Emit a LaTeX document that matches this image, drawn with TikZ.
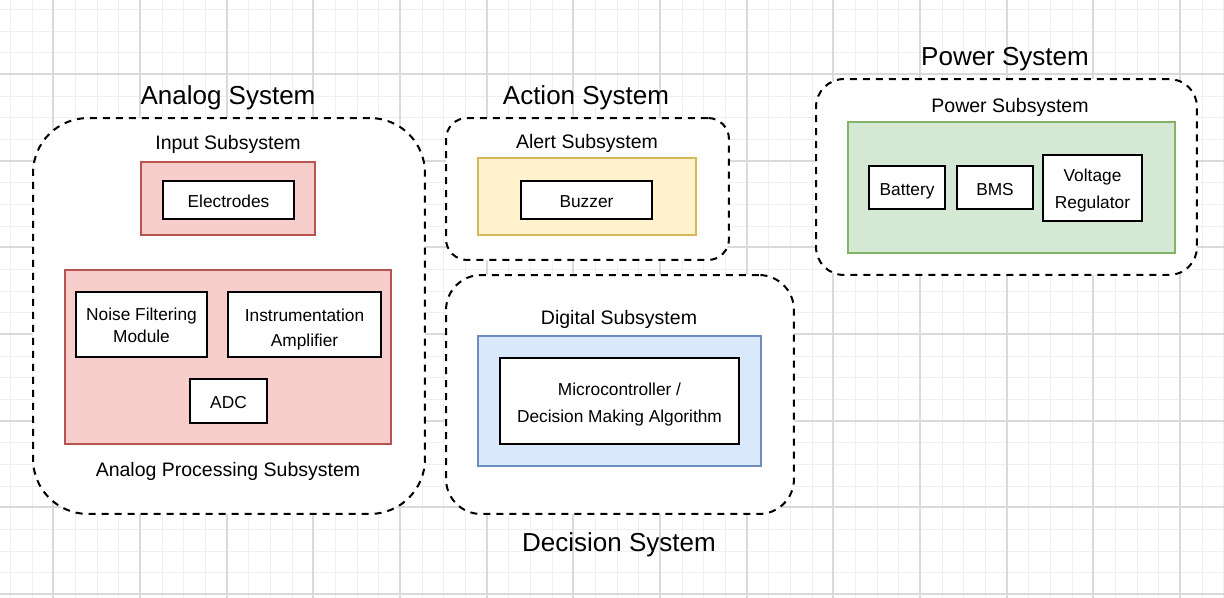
\documentclass[tikz,border=0pt]{standalone}
\usepackage{fontspec}
\setmainfont{Liberation Sans}
\definecolor{gridminor}{HTML}{EFEFEF}
\definecolor{gridmajor}{HTML}{DADADA}
\definecolor{redfill}{HTML}{F8CECC}
\definecolor{redline}{HTML}{B85450}
\definecolor{yelfill}{HTML}{FFF2CC}
\definecolor{yelline}{HTML}{D6B656}
\definecolor{blufill}{HTML}{DAE8FC}
\definecolor{bluline}{HTML}{6C8EBF}
\definecolor{grnfill}{HTML}{D5E8D4}
\definecolor{grnline}{HTML}{82B366}
\newcommand{\tstrut}[1]{\rule{0pt}{#1}}
\tikzset{
  outerbox/.style={draw=black, line width=1.15pt, dash pattern=on 4pt off 3.4pt, inner sep=0pt},
  subbox/.style={line width=0.9pt, inner sep=0pt},
  item/.style={draw=black, fill=white, line width=1.1pt, inner sep=0pt, align=center,
    font=\fontsize{9.85}{14.5}\selectfont},
  oneline/.style={text height=8.2pt, text depth=0pt},
  title/.style={inner sep=0pt, anchor=base, font=\fontsize{14.8}{17}\selectfont},
  sublabel/.style={inner sep=0pt, anchor=base, font=\fontsize{11.1}{13}\selectfont},
}
\begin{document}
\begin{tikzpicture}[x=0.02cm, y=-0.02cm]
\useasboundingbox (0,0) rectangle (1224,598);
\fill[white] (0,0) rectangle (1224,598);
% grid
\foreach \i in {0,...,56} {
  \pgfmathsetmacro\xx{round(10+21.6667*\i)+0.5}
  \draw[gridminor, line width=0.02cm] (\xx,0) -- (\xx,598);
}
\foreach \j in {0,...,27} {
  \pgfmathsetmacro\yy{round(9+21.6667*\j)+0.5}
  \draw[gridminor, line width=0.02cm] (0,\yy) -- (1224,\yy);
}
\foreach \i in {0,...,13} {
  \pgfmathsetmacro\xx{round(53.33+86.6667*\i)}
  \draw[gridmajor, line width=0.04cm] (\xx,0) -- (\xx,598);
}
\foreach \j in {0,...,6} {
  \pgfmathsetmacro\yy{round(74+86.6667*\j)}
  \draw[gridmajor, line width=0.04cm] (0,\yy) -- (1224,\yy);
}

% Analog system
\node[outerbox, rounded corners=1.1cm, fill=white, minimum width=7.84cm, minimum height=7.92cm] (anaOuter) at (229,316) {};
\node[title] (anaTitle) at (228,105) {Analog System};
\node[sublabel] (inputLbl) at (228,150) {Input Subsystem};
\node[subbox, draw=redline, fill=redfill, minimum width=3.48cm, minimum height=1.46cm] (inputBox) at (228,198.5) {};
\node[item, oneline, minimum width=2.62cm, minimum height=0.76cm] (electrodes) at (228.5,200) {Electrodes};
\node[subbox, draw=redline, fill=redfill, minimum width=6.52cm, minimum height=3.48cm] (procBox) at (228,357) {};
\node[item, minimum width=2.62cm, minimum height=1.3cm, font=\fontsize{9.85}{12.1}\selectfont] (noise) at (141.5,324.5) {\tstrut{8.1pt}Noise Filtering\\\smash{Module}};
\node[item, minimum width=3.06cm, minimum height=1.3cm, font=\fontsize{9.85}{14.55}\selectfont] (instr) at (304.5,324.5) {\tstrut{10.6pt}Instrumentation\\\smash{Amplifier}};
\node[item, oneline, minimum width=1.54cm, minimum height=0.88cm] (adc) at (228.5,401) {ADC};
\node[sublabel] (procLbl) at (228,476.7) {Analog Processing Subsystem};

% Action system
\node[outerbox, rounded corners=0.42cm, fill=white, minimum width=5.66cm, minimum height=2.84cm] (actOuter) at (587.5,189) {};
\node[title] (actTitle) at (586,105) {Action System};
\node[sublabel] (alertLbl) at (587,149) {Alert Subsystem};
\node[subbox, draw=yelline, fill=yelfill, minimum width=4.36cm, minimum height=1.54cm] (alertBox) at (587,196.5) {};
\node[item, oneline, minimum width=2.62cm, minimum height=0.76cm] (buzzer) at (586.5,200) {Buzzer};

% Decision system
\node[outerbox, rounded corners=0.7cm, fill=white, minimum width=6.96cm, minimum height=4.78cm] (decOuter) at (620,394.5) {};
\node[sublabel] (digLbl) at (619,324) {Digital Subsystem};
\node[subbox, draw=bluline, fill=blufill, minimum width=5.66cm, minimum height=2.6cm] (digBox) at (619.5,401) {};
\node[item, minimum width=4.78cm, minimum height=1.72cm, font=\fontsize{9.85}{15.5}\selectfont] (micro) at (619.5,401) {\tstrut{8.7pt}Microcontroller /\\\smash{Decision Making Algorithm}};
\node[title] (decTitle) at (619,551.7) {Decision System};

% Power system
\node[outerbox, rounded corners=0.56cm, fill=white, minimum width=7.62cm, minimum height=3.92cm] (powOuter) at (1006.5,177) {};
\node[title] (powTitle) at (1005,66) {Power System};
\node[sublabel] (powLbl) at (1010,112.7) {Power Subsystem};
\node[subbox, draw=grnline, fill=grnfill, minimum width=6.54cm, minimum height=2.62cm] (grnBox) at (1011.5,187.5) {};
\node[item, oneline, minimum width=1.52cm, minimum height=0.86cm] (battery) at (907,187.8) {Battery};
\node[item, oneline, minimum width=1.52cm, minimum height=0.86cm] (bms) at (995,187.8) {BMS};
\node[item, minimum width=1.98cm, minimum height=1.32cm, font=\fontsize{9.85}{15.1}\selectfont] (vreg) at (1092.5,188) {\tstrut{7.94pt}Voltage\\\smash{Regulator}};
\end{tikzpicture}
\end{document}
